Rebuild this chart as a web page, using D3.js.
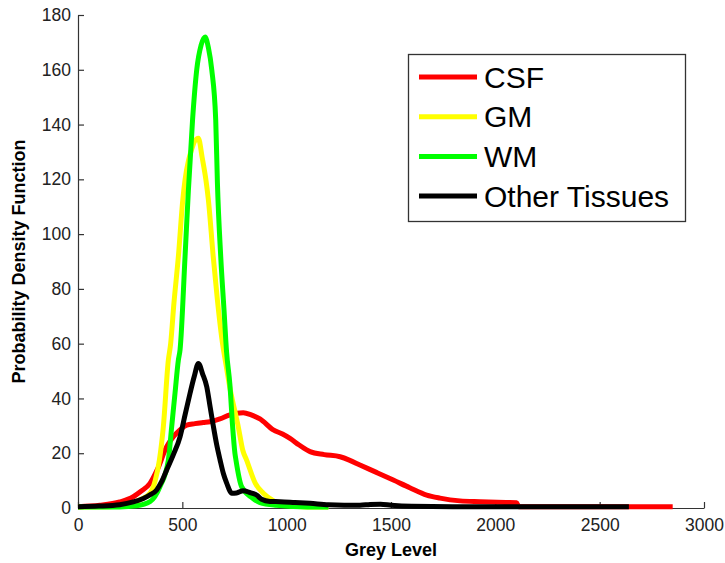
<!DOCTYPE html>
<html>
<head>
<meta charset="utf-8">
<script src="https://cdn.jsdelivr.net/npm/d3@7"></script>
<style>
  body { margin: 0; background: #fff; }
  svg { font-family: "Liberation Sans", Arial, sans-serif; }
</style>
</head>
<body>
<div class="canvas"></div>
<script>
// [grey level, pdf]
const csf = [[0,0.5],[105,1],[200,2.2],[265,4.1],[300,6],[345,9],[380,14],[425,22.4],[457,26],[489,28.5],
  [521,30.3],[560,30.8],[600,31.2],[633,31.5],[680,32.5],[728,34],[792,34.8],[830,34],[872,32.5],[936,28.5],
  [980,27],[1016,25.4],[1060,23],[1112,20.6],[1180,19.5],[1256,18.7],[1300,17.5],[1351,15.7],[1430,13],
  [1511,10.2],[1590,7.4],[1671,4.7],[1735,3.6],[1831,2.6],[1927,2.3],[2050,2],[2102,1.9],[2112,0.5],[2850,0.5]];

const gm = [[0,0.4],[150,0.5],[233,1],[297,3],[345,5.4],[370,10],[390,17.5],[409,29.7],[433,54],[444,60],
  [460,75],[481,91.8],[502,112.4],[513,119.8],[530,127],[545,131],[560,134],[577,135],[595,128],[613,119.8],
  [625,112.4],[648,91.8],[668,76],[689,62],[710,52],[730,43],[750,36],[768,29.7],[790,21],[808,17.5],
  [850,9],[888,5.4],[940,2.5],[1000,1],[1100,0.4],[1200,0.4]];

const wm = [[0,0.4],[200,0.4],[280,0.8],[345,2.3],[393,7.8],[433,17.5],[449,29.7],[465,42],[481,54],[489,57.7],
  [513,91.8],[529,116],[549,141.7],[569,160],[590,169],[609,172],[625,168],[641,160],[660,141.7],[668,119],
  [684,91.8],[700,72],[712,57],[728,45],[741,29.7],[752,20],[757,17.5],[784,7.8],[830,4],[872,2],[950,1],
  [1100,0.4],[1200,0.4]];

const other = [[0,0.5],[100,0.7],[200,1.2],[265,2.2],[313,3.5],[345,4.8],[377,6.6],[400,9.5],[425,13.9],
  [457,19.5],[489,26],[513,34],[537,41.9],[557,48],[577,52.8],[597,49],[617,44.3],[633,37],[649,29.7],
  [665,23],[681,17.5],[697,12.5],[713,9],[737,5.4],[760,5.5],[792,6.3],[825,5.6],[856,4.7],[880,3.2],
  [920,2.4],[968,2.3],[1040,2],[1112,1.7],[1200,1.2],[1351,1],[1400,1.3],[1450,1.4],[1500,1],[1600,0.6],
  [1800,0.5],[2200,0.5],[2640,0.5]];

const seriesNames = ['CSF', 'GM', 'WM', 'Other Tissues'];
const seriesColors = ['#ff0000', '#ffff00', '#00ff00', '#000000'];
const xTicks = [0, 500, 1000, 1500, 2000, 2500, 3000];
const yTicks = [0, 20, 40, 60, 80, 100, 120, 140, 160, 180];

const dims = { width: 725, height: 563 };
const plot = { left: 78, right: 704, top: 15, bottom: 508 };

const svg = d3.select('.canvas')
  .append('svg')
  .attr('width', dims.width)
  .attr('height', dims.height);

const x = d3.scaleLinear().domain([0, 3000]).range([plot.left, plot.right]);
const y = d3.scaleLinear().domain([0, 180]).range([plot.bottom, plot.top]);

// axes (MATLAB style, ticks inward, no box)
const xAxis = svg.append('g')
  .attr('transform', `translate(0, ${plot.bottom})`)
  .call(d3.axisBottom(x).tickValues(xTicks).tickFormat(d3.format('d'))
    .tickSizeInner(-6).tickSizeOuter(0).tickPadding(11));

const yAxis = svg.append('g')
  .attr('transform', `translate(${plot.left}, 0)`)
  .call(d3.axisLeft(y).tickValues(yTicks).tickFormat(d3.format('d'))
    .tickSizeInner(-6).tickSizeOuter(0).tickPadding(7));

[xAxis, yAxis].forEach(ax => {
  ax.selectAll('path, line').attr('stroke', '#333').attr('stroke-width', 1.2);
  ax.selectAll('text')
    .attr('fill', '#222')
    .style('font-size', '17.5px')
    .style('font-family', '"Liberation Sans", Arial, sans-serif');
});

svg.append('text')
  .attr('x', (plot.left + plot.right) / 2)
  .attr('y', 556)
  .attr('text-anchor', 'middle')
  .style('font-size', '18px')
  .style('font-weight', 'bold')
  .text('Grey Level');

svg.append('text')
  .attr('transform', `translate(25, ${(plot.top + plot.bottom) / 2}) rotate(-90)`)
  .attr('text-anchor', 'middle')
  .style('font-size', '18px')
  .style('font-weight', 'bold')
  .text('Probability Density Function');

// curves
const line = d3.line()
  .x(d => x(d[0]))
  .y(d => y(d[1]))
  .curve(d3.curveMonotoneX);

const allSeries = [csf, gm, wm, other];

svg.append('g')
  .selectAll('path')
  .data(allSeries)
  .enter()
  .append('path')
    .attr('d', line)
    .attr('fill', 'none')
    .attr('stroke', (d, i) => seriesColors[i])
    .attr('stroke-width', 5)
    .attr('stroke-linejoin', 'round');

// legend
const legend = svg.append('g');

legend.append('rect')
  .attr('x', 408.5)
  .attr('y', 54.5)
  .attr('width', 277)
  .attr('height', 167)
  .attr('fill', '#fff')
  .attr('stroke', '#333')
  .attr('stroke-width', 1.3);

const rows = legend.selectAll('g.row')
  .data(seriesNames)
  .enter()
  .append('g')
    .attr('class', 'row')
    .attr('transform', (d, i) => `translate(0, ${77 + i * 39.7})`);

rows.append('line')
  .attr('x1', 419)
  .attr('x2', 477)
  .attr('stroke', (d, i) => seriesColors[i])
  .attr('stroke-width', 5);

rows.append('text')
  .attr('x', 484)
  .attr('y', 10.5)
  .style('font-size', '30px')
  .text(d => d);
</script>
</body>
</html>
